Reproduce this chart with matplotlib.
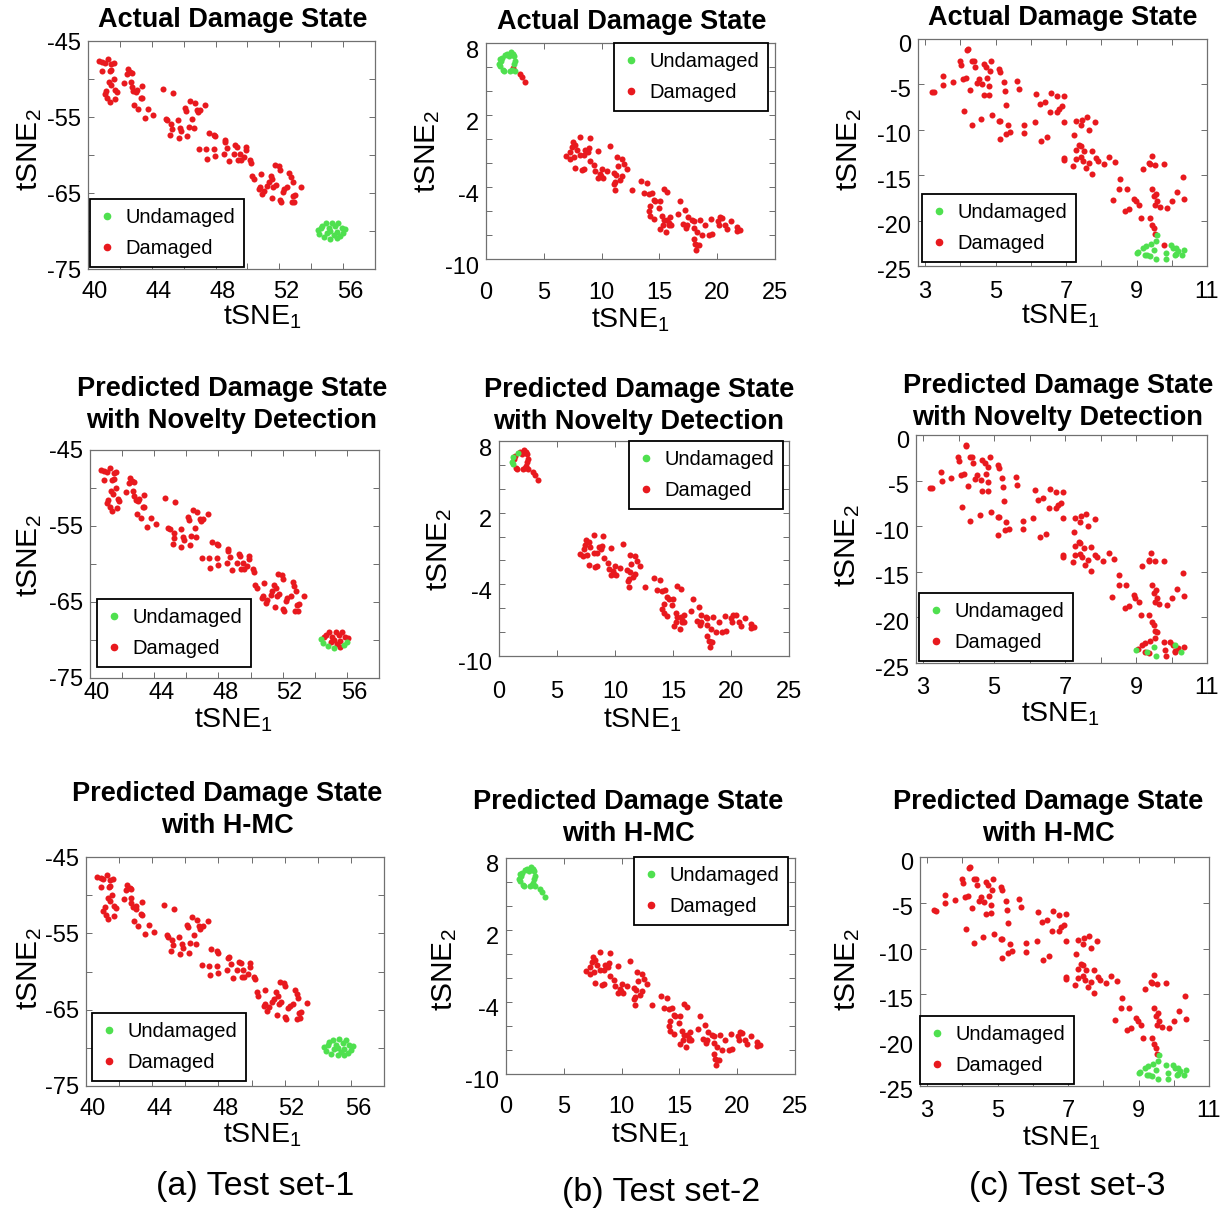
import matplotlib
matplotlib.use("Agg")
import matplotlib.pyplot as plt
import matplotlib.transforms as mtransforms
from matplotlib.lines import Line2D

plt.rcParams['font.family'] = ['Liberation Sans', 'DejaVu Sans']
plt.rcParams['mathtext.fontset'] = 'custom'
plt.rcParams['mathtext.rm'] = 'Liberation Sans'

RED = '#e8191e'
GREEN = '#4fe04f'

# ---------------- Test set-1 (column a) ----------------
a_main_x = [40.67, 40.88, 41.05, 41.26, 41.47, 41.64, 40.88, 41.37, 41.47, 41.60, 41.32, 41.43, 41.05,
            41.72, 41.81, 41.68, 41.22, 41.35, 41.14, 42.48, 42.63, 42.73, 42.42, 42.27, 42.69, 42.73,
            42.84, 42.99, 43.05, 43.36, 43.32, 42.90, 43.15, 43.58, 43.79, 44.10, 43.36, 44.69, 45.32,
            44.88, 44.96, 45.22, 45.64, 45.26, 45.15, 45.78, 45.85, 45.68, 46.20, 46.31, 46.62, 46.10,
            46.14, 46.41, 46.69, 46.83, 47.05, 47.36, 46.52, 46.90, 46.98, 47.42, 47.47, 47.57, 47.89,
            47.95, 47.89, 47.99, 48.62, 48.58, 48.54, 48.73, 48.87, 49.25, 49.36, 49.51, 49.42, 49.57,
            49.88, 49.93, 49.78, 50.14, 50.20, 49.15, 50.30, 50.41, 50.83, 50.79, 50.73, 50.94, 51.04,
            51.25, 51.36, 51.46, 51.57, 51.52, 51.63, 51.78, 51.95, 52.03, 52.05, 52.11, 52.20, 52.30,
            52.51, 52.62, 52.72, 52.83, 52.93, 53.00, 52.87, 52.77, 53.35, 51.74]
a_main_y = [-47.60, -47.78, -47.91, -47.34, -48.05, -47.83, -48.89, -48.89, -48.75, -49.99, -50.34, -50.78,
            -52.02, -51.45, -51.67, -52.68, -52.55, -53.08, -51.58, -48.71, -49.02, -49.15, -49.37, -50.56,
            -50.43, -51.00, -51.58, -51.75, -51.45, -50.92, -52.46, -53.43, -54.01, -55.07, -53.96, -54.76,
            -52.55, -51.31, -51.80, -55.20, -55.42, -55.86, -55.42, -56.52, -57.32, -56.43, -56.88, -57.72,
            -57.54, -56.30, -56.43, -53.87, -54.23, -52.86, -53.21, -54.09, -54.09, -53.43, -55.20, -54.40,
            -59.17, -59.26, -60.50, -57.10, -57.32, -57.54, -59.26, -60.14, -58.07, -58.29, -59.83, -59.08,
            -60.85, -58.73, -58.95, -59.83, -60.72, -60.72, -58.95, -59.39, -60.28, -60.72, -61.03, -59.83,
            -62.70, -63.15, -62.48, -64.25, -64.47, -65.13, -64.69, -64.03, -63.59, -62.70, -63.15, -65.71,
            -64.25, -63.94, -61.47, -61.91, -65.93, -66.24, -64.82, -64.47, -64.25, -62.40, -62.93, -63.50,
            -66.15, -65.26, -65.44, -66.24, -64.16, -61.38]
a_clu_x = [54.4, 54.5, 54.7, 54.8, 54.9, 55.0, 55.1, 55.2, 55.3, 55.4, 55.5, 55.6, 55.7, 55.8, 55.9,
           56.0, 56.1, 54.6, 55.6, 55.2]
a_clu_y = [-69.9, -70.4, -69.3, -70.8, -69.0, -70.2, -69.6, -71.0, -68.9, -70.5, -69.4, -70.1, -69.0,
           -70.7, -69.6, -70.3, -69.8, -69.6, -70.9, -70.0]
a_nov_green = [0, 1, 3, 7, 13, 15]          # cluster points flagged undamaged by novelty detection

# ---------------- Test set-2 (column b) ----------------
b_main_x = [8.16, 8.96, 7.52, 7.72, 7.44, 7.87, 7.29, 8.59, 8.88, 9.65, 10.69, 6.95, 7.23, 7.58, 8.16,
            8.44, 8.79, 7.72, 8.30, 8.44, 9.37, 9.02, 9.45, 10.03, 10.46, 9.65, 9.94, 10.12, 9.83, 11.04,
            11.27, 11.33, 11.76, 11.90, 12.19, 11.38, 11.76, 11.56, 11.18, 11.10, 11.18, 12.62, 13.40,
            13.92, 13.63, 14.06, 14.35, 14.50, 15.36, 15.65, 15.01, 14.93, 14.21, 14.06, 14.21, 14.50,
            15.22, 15.36, 15.65, 15.79, 15.94, 15.30, 15.07, 15.79, 15.99, 15.59, 16.74, 16.57, 17.23,
            17.44, 17.03, 17.38, 17.32, 17.81, 17.95, 17.95, 18.24, 18.47, 18.67, 17.95, 18.10, 18.24,
            18.18, 18.39, 18.96, 19.25, 19.54, 19.45, 20.03, 20.20, 20.40, 20.12, 20.69, 20.84, 21.18,
            21.70, 21.70, 21.99, 14.64]
b_main_y = [0.14, 0.08, -0.25, -0.47, -0.69, -0.89, -1.08, -0.89, -0.75, -0.97, -0.61, -1.44, -1.64, -1.53,
            -1.36, -1.36, -1.08, -2.42, -2.56, -2.47, -2.19, -1.81, -2.69, -2.47, -2.64, -3.25, -3.11,
            -3.25, -2.92, -2.83, -2.97, -1.53, -1.64, -2.08, -2.47, -2.28, -3.11, -3.39, -3.58, -3.75,
            -4.22, -4.22, -3.47, -3.67, -4.50, -4.58, -4.50, -5.06, -4.14, -4.42, -5.19, -5.75, -5.61,
            -6.03, -6.44, -6.64, -6.44, -6.72, -6.72, -7.00, -6.53, -7.14, -7.47, -7.19, -7.19, -7.75,
            -5.19, -6.25, -5.89, -6.53, -7.08, -7.19, -7.42, -6.72, -6.86, -7.42, -7.75, -6.72, -7.97,
            -8.31, -8.75, -8.86, -9.22, -8.81, -7.19, -7.97, -7.92, -6.64, -6.86, -6.53, -6.58, -7.14,
            -7.19, -7.47, -6.86, -7.36, -7.69, -7.56, -5.19]
b_clu_x = [1.18, 1.30, 1.24, 1.47, 1.59, 1.67, 1.82, 1.96, 2.16, 2.33, 2.45, 2.54, 2.39, 2.25, 2.05,
           2.51, 1.12, 1.41]
b_clu_y = [6.69, 6.47, 6.06, 5.78, 5.64, 7.03, 7.08, 6.89, 7.25, 7.08, 6.89, 6.47, 6.25, 5.78, 5.64,
           5.69, 6.25, 6.75]
b_tail_x = [2.33, 2.97, 3.11, 3.40]
b_tail_y = [5.92, 5.42, 5.14, 4.72]
b_nov_green = [0, 2, 5, 16]

# ---------------- Test set-3 (column c) ----------------
c_main_x = [4.20, 4.22, 3.99, 4.01, 4.32, 4.38, 4.41, 4.67, 4.88, 4.74, 4.84, 5.10, 5.14, 3.50, 3.52,
            3.78, 4.08, 4.16, 4.27, 4.46, 4.53, 4.63, 4.76, 4.82, 4.67, 4.82, 5.23, 5.26, 5.29, 5.61,
            5.66, 3.19, 3.25, 4.10, 4.32, 4.60, 4.91, 5.10, 5.14, 5.34, 5.31, 5.42, 5.12, 5.82, 5.82,
            6.14, 6.11, 6.25, 6.39, 6.58, 6.74, 6.95, 6.55, 6.74, 6.79, 6.89, 6.30, 6.46, 6.95, 7.28,
            7.45, 7.59, 7.43, 7.66, 7.83, 7.24, 7.38, 7.28, 7.43, 7.52, 7.74, 6.93, 6.95, 7.28, 7.43,
            7.49, 7.64, 7.57, 7.74, 7.21, 7.85, 7.90, 8.08, 8.23, 8.39, 8.53, 8.51, 8.72, 8.32, 8.68,
            8.79, 8.93, 8.98, 9.07, 9.14, 9.17, 9.36, 9.43, 9.37, 9.53, 9.78, 9.45, 9.50, 9.56, 9.59,
            9.53, 9.66, 9.87, 10.02, 10.16, 10.32, 10.34, 9.37, 9.45, 9.50, 9.53]
c_main_y = [-1.16, -1.05, -2.44, -2.81, -2.44, -2.44, -3.07, -2.74, -2.44, -3.11, -3.55, -3.25, -3.62,
            -4.10, -5.02, -4.72, -4.36, -4.28, -5.57, -4.83, -4.36, -4.94, -4.28, -5.20, -6.19, -6.12,
            -4.76, -5.75, -7.22, -4.58, -5.50, -5.83, -5.86, -7.89, -9.43, -8.77, -8.40, -8.99, -8.99,
            -9.50, -10.46, -10.28, -11.01, -9.43, -10.35, -6.01, -9.14, -7.15, -6.93, -5.94, -6.30, -6.23,
            -8.03, -8.03, -7.67, -7.41, -11.19, -10.83, -9.14, -9.06, -8.88, -8.62, -9.50, -9.98, -9.17,
            -10.61, -11.71, -12.19, -11.82, -12.37, -12.30, -13.11, -13.36, -13.18, -13.00, -13.40, -13.66,
            -14.21, -14.87, -13.95, -13.11, -13.40, -13.77, -12.99, -13.58, -15.39, -16.49, -16.49, -17.78,
            -18.92, -18.70, -17.59, -17.89, -18.33, -19.72, -14.36, -13.66, -12.92, -13.77, -13.84, -13.77,
            -16.49, -17.33, -17.04, -17.89, -18.33, -18.55, -18.62, -17.89, -16.86, -15.17, -17.67, -19.72,
            -20.46, -20.83, -21.49]
c_clu_x = [9.59, 9.54, 9.40, 9.26, 9.17, 9.05, 9.00, 9.24, 9.31, 9.37, 9.50, 9.56, 9.83, 9.85, 9.97,
           10.03, 10.11, 10.18, 10.11, 10.28, 10.34, 10.09]
c_clu_y = [-21.64, -22.22, -22.55, -22.85, -23.03, -23.47, -23.58, -23.77, -23.84, -23.88, -23.22, -24.21,
           -23.58, -24.21, -22.74, -23.03, -23.03, -23.40, -23.69, -23.77, -23.22, -23.77]
c_extra_x = [9.78]
c_extra_y = [-22.74]
c_nov_green = [6, 8, 10, 11, 16, 19]

# ---------------- text ----------------
row_titles = ["Actual Damage State",
              "Predicted Damage State\nwith Novelty Detection",
              "Predicted Damage State\nwith H-MC"]
captions = ["(a) Test set-1", "(b) Test set-2", "(c) Test set-3"]
xlabel = r'$\mathregular{tSNE_1}$'
ylabel = r'$\mathregular{tSNE_2}$'

W, H = 1225, 1209
fig = plt.figure(figsize=(W / 100, H / 100), dpi=100)


def add_ax(l, t, r, b):
    return fig.add_axes([l / W, 1 - b / H, (r - l) / W, (b - t) / H])


def style(ax, xlim, ylim, xt, xtl, yt, ytl, xpad, ydrop, xshift):
    ax.set_xlim(*xlim)
    ax.set_ylim(*ylim)
    ax.set_xticks(xt)
    ax.set_xticklabels(xtl)
    ax.set_yticks(yt)
    ax.set_yticklabels(ytl)
    ax.tick_params(direction='in', length=4, width=0.6, color='#555555', top=True, right=True,
                   labelsize=17)
    ax.tick_params(axis='x', pad=xpad)
    ax.tick_params(axis='y', pad=5)
    if ydrop:
        off = mtransforms.ScaledTranslation(0, -ydrop / 100, fig.dpi_scale_trans)
        for lab in ax.get_yticklabels():
            lab.set_transform(lab.get_transform() + off)
    if xshift:
        off = mtransforms.ScaledTranslation(xshift / 100, 0, fig.dpi_scale_trans)
        for lab in ax.get_xticklabels():
            lab.set_transform(lab.get_transform() + off)
    for s in ax.spines.values():
        s.set_color('#707070')
        s.set_linewidth(0.9)


def split(xs, ys, green_idx):
    gx, gy, rx, ry = [], [], [], []
    for i, (x, y) in enumerate(zip(xs, ys)):
        if i in green_idx:
            gx.append(x); gy.append(y)
        else:
            rx.append(x); ry.append(y)
    return gx, gy, rx, ry


def scatter(ax, gx, gy, rx, ry):
    ax.scatter(rx, ry, s=19, c=RED, linewidths=0, zorder=3)
    ax.scatter(gx, gy, s=19, c=GREEN, linewidths=0, zorder=3)


def legend(ax, px, py, loc):
    handles = [Line2D([], [], ls='none', marker='o', ms=4.5, mfc=GREEN, mec=GREEN),
               Line2D([], [], ls='none', marker='o', ms=4.5, mfc=RED, mec=RED)]
    lg = ax.legend(handles, ['Undamaged', 'Damaged'], loc=loc,
                   bbox_to_anchor=(px / W, 1 - py / H), bbox_transform=fig.transFigure,
                   borderaxespad=0, fancybox=False, framealpha=1, edgecolor='black',
                   fontsize=14.5, handlelength=0.8, handletextpad=0.5, borderpad=0.45,
                   labelspacing=0.6)
    lg.get_frame().set_linewidth(1.3)


# axes boxes (pixels): left, top, right, bottom
boxes = {
    ('a', 0): (88, 41, 375, 269), ('b', 0): (486, 43, 775, 259), ('c', 0): (918, 39, 1207, 266),
    ('a', 1): (90, 450, 379, 678), ('b', 1): (499, 441, 789, 656), ('c', 1): (916, 435, 1207, 663),
    ('a', 2): (86, 857, 384, 1086), ('b', 2): (506, 858, 795, 1074), ('c', 2): (920, 857, 1209, 1086),
}
legend_pos = {
    ('a', 0): (90, 267, 'lower left'), ('b', 0): (768, 43, 'upper right'), ('c', 0): (922, 262, 'lower left'),
    ('a', 1): (97, 667, 'lower left'), ('b', 1): (783, 441, 'upper right'), ('c', 1): (919, 661, 'lower left'),
    ('a', 2): (92, 1081, 'lower left'), ('b', 2): (788, 857, 'upper right'), ('c', 2): (920, 1084, 'lower left'),
}
title_pos = {
    ('a', 0): (233, 20), ('b', 0): (632, 22), ('c', 0): (1063, 18),
    ('a', 1): (232, 405), ('b', 1): (639, 406), ('c', 1): (1058, 402),
    ('a', 2): (227, 810), ('b', 2): (628, 818), ('c', 2): (1048, 818),
}
xlabel_pos = {
    ('a', 0): (262, 317), ('b', 0): (630, 320), ('c', 0): (1060, 316),
    ('a', 1): (233, 720), ('b', 1): (642, 720), ('c', 1): (1060, 714),
    ('a', 2): (262, 1135), ('b', 2): (650, 1135), ('c', 2): (1061, 1138),
}
ylabel_pos = {
    ('a', 0): (30, 150), ('b', 0): (428, 152), ('c', 0): (850, 150),
    ('a', 1): (30, 556), ('b', 1): (440, 550), ('c', 1): (848, 546),
    ('a', 2): (30, 969), ('b', 2): (445, 970), ('c', 2): (848, 970),
}
xpads = {
    ('a', 0): 9, ('b', 0): 16.5, ('c', 0): 10.5,
    ('a', 1): 3, ('b', 1): 18, ('c', 1): 10,
    ('a', 2): 8.5, ('b', 2): 16, ('c', 2): 10,
}
ydrops = {'a': 0, 'b': 6, 'c': 4}
xshifts = {'a': 7, 'b': 0, 'c': 0}

a_xt = [40, 42, 44, 46, 48, 50, 52, 54, 56]
a_xtl = ['40', '', '44', '', '48', '', '52', '', '56']
a_yt = [-75, -70, -65, -60, -55, -50, -45]
a_ytl = ['-75', '', '-65', '', '-55', '', '-45']
b_xt = [0, 5, 10, 15, 20, 25]
b_xtl = ['0', '5', '10', '15', '20', '25']
b_yt = [-10, -8, -6, -4, -2, 0, 2, 4, 6, 8]
b_ytl = ['-10', '', '', '-4', '', '', '2', '', '', '8']
c_xt = [3, 4, 5, 6, 7, 8, 9, 10, 11]
c_xtl = ['3', '', '5', '', '7', '', '9', '', '11']
c_yt = [-25, -20, -15, -10, -5, 0]
c_ytl = ['-25', '-20', '-15', '-10', '-5', '0']

for row in range(3):
    # column a
    ax = add_ax(*boxes[('a', row)])
    if row == 1:
        gx, gy, rx, ry = split(a_clu_x, a_clu_y, a_nov_green)
    else:
        gx, gy, rx, ry = list(a_clu_x), list(a_clu_y), [], []
    scatter(ax, gx, gy, a_main_x + rx, a_main_y + ry)
    style(ax, (40, 58), (-75, -45), a_xt, a_xtl, a_yt, a_ytl, xpads[('a', row)], ydrops['a'], xshifts['a'])
    legend(ax, *legend_pos[('a', row)])

    # column b
    ax = add_ax(*boxes[('b', row)])
    if row == 0:
        gx, gy, rx, ry = list(b_clu_x), list(b_clu_y), list(b_tail_x), list(b_tail_y)
    elif row == 1:
        gx, gy, rx, ry = split(b_clu_x, b_clu_y, b_nov_green)
        rx += b_tail_x; ry += b_tail_y
    else:
        gx, gy, rx, ry = b_clu_x + b_tail_x, b_clu_y + b_tail_y, [], []
    scatter(ax, gx, gy, b_main_x + rx, b_main_y + ry)
    style(ax, (0, 25), (-10, 8), b_xt, b_xtl, b_yt, b_ytl, xpads[('b', row)], ydrops['b'], xshifts['b'])
    legend(ax, *legend_pos[('b', row)])

    # column c
    ax = add_ax(*boxes[('c', row)])
    if row == 0:
        gx, gy, rx, ry = list(c_clu_x), list(c_clu_y), list(c_extra_x), list(c_extra_y)
    elif row == 1:
        gx, gy, rx, ry = split(c_clu_x, c_clu_y, c_nov_green)
        rx += c_extra_x; ry += c_extra_y
    else:
        gx, gy, rx, ry = c_clu_x + c_extra_x, c_clu_y + c_extra_y, [], []
    scatter(ax, gx, gy, c_main_x + rx, c_main_y + ry)
    style(ax, (2.8, 11), (-25, 0), c_xt, c_xtl, c_yt, c_ytl, xpads[('c', row)], ydrops['c'], xshifts['c'])
    legend(ax, *legend_pos[('c', row)])

for key, (x, y) in title_pos.items():
    fig.text(x / W, 1 - y / H, row_titles[key[1]], ha='center', va='center', fontsize=19.5,
             fontweight='bold', linespacing=1.33)

for key, (x, y) in xlabel_pos.items():
    fig.text(x / W, 1 - y / H, xlabel, ha='center', va='center', fontsize=20.5)

for key, (x, y) in ylabel_pos.items():
    fig.text(x / W, 1 - y / H, ylabel, ha='center', va='center', fontsize=21.5, rotation=90)

for x, y, cap in zip([255, 661, 1067], [1187, 1192, 1187], captions):
    fig.text(x / W, 1 - y / H, cap, ha='center', va='center', fontsize=24.5)

fig.savefig('out.png', dpi=100, facecolor='white')
